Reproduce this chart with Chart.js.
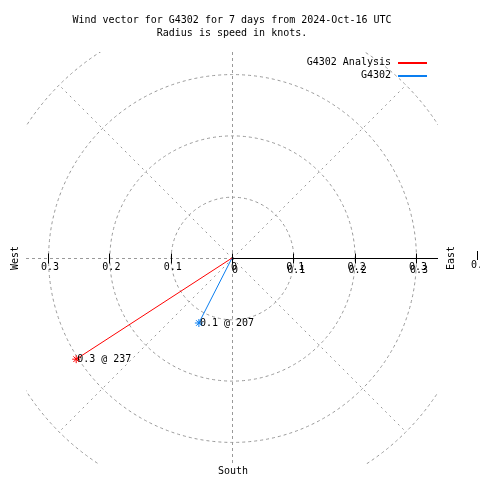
<!DOCTYPE html>
<html>
<head>
<meta charset="utf-8">
<script src="https://cdn.jsdelivr.net/npm/chart.js@4/dist/chart.umd.min.js"></script>
<style>
  html, body { margin: 0; padding: 0; background: #fff; }
  canvas { display: block; }
</style>
</head>
<body>
<canvas id="myChart" width="480" height="480"></canvas>
<script>
'use strict';

// wind vectors: speed in knots, direction in degrees
var seriesNames = ['G4302 Analysis', 'G4302'];
var seriesSpeed = [0.303, 0.119];
var seriesDir = [237, 207];
var seriesColors = ['#ff0000', '#0a7ef0'];

// rings and axis ticks
var ringValues = [0.1, 0.2, 0.3, 0.4];
var tickValues = [-0.3, -0.2, -0.1, 0, 0.1, 0.2, 0.3];
var tickLabels = ['0.3', '0.2', '0.1', '0', '0.1', '0.2', '0.3'];

var titleLines = ['Wind vector for G4302 for 7 days from 2024-Oct-16 UTC', 'Radius is speed in knots.'];
var FONT = '10px "DejaVu Sans Mono", monospace';
var GRID = '#999999';

function speedLabel(i) {
  return seriesSpeed[i].toFixed(1) + ' @ ' + seriesDir[i];
}

var datasets = [];
for (let a = 0; a < seriesNames.length; a++) {
  var rad = seriesDir[a] * Math.PI / 180;
  datasets.push({
    label: seriesNames[a],
    data: [{x: 0, y: 0}, {x: seriesSpeed[a] * Math.sin(rad), y: seriesSpeed[a] * Math.cos(rad)}],
    showLine: true,
    borderColor: seriesColors[a],
    backgroundColor: seriesColors[a],
    borderWidth: 1,
    pointStyle: 'star',
    pointRadius: [0, 4],
    pointBorderWidth: 1
  });
}

var polarGrid = {
  id: 'polarGrid',
  beforeDatasetsDraw: function (chart) {
    var c = chart.ctx, area = chart.chartArea;
    var xs = chart.scales.x, ys = chart.scales.y;
    var cx = Math.round(xs.getPixelForValue(0)) + 0.5;
    var cy = Math.round(ys.getPixelForValue(0)) + 0.5;
    var unit = xs.getPixelForValue(1) - xs.getPixelForValue(0);
    c.save();
    c.beginPath();
    c.rect(area.left, area.top, area.right - area.left, area.bottom - area.top);
    c.clip();
    c.strokeStyle = GRID;
    c.lineWidth = 1;
    c.setLineDash([3, 3]);
    // rings
    for (let r = 0; r < ringValues.length; r++) {
      c.beginPath();
      c.arc(cx, cy, ringValues[r] * unit, 0, Math.PI * 2);
      c.stroke();
    }
    // diagonals out to the last ring
    var outer = ringValues[ringValues.length - 1] * unit;
    c.setLineDash([2, 4]);
    for (let k = 0; k < 4; k++) {
      var ang = (45 + 90 * k) * Math.PI / 180;
      c.beginPath();
      c.moveTo(cx, cy);
      c.lineTo(cx + outer * Math.cos(ang), cy + outer * Math.sin(ang));
      c.stroke();
    }
    // vertical and west half of horizontal
    c.setLineDash([3, 3]);
    c.beginPath();
    c.moveTo(cx, area.top);
    c.lineTo(cx, area.bottom);
    c.moveTo(area.left, cy);
    c.lineTo(cx, cy);
    c.stroke();
    c.restore();

    // east half axis, solid
    c.save();
    c.strokeStyle = '#000';
    c.lineWidth = 1;
    c.beginPath();
    c.moveTo(cx, cy);
    c.lineTo(area.right, cy);
    for (let t = 0; t < tickValues.length; t++) {
      var tx = Math.round(xs.getPixelForValue(tickValues[t])) + 0.5;
      c.moveTo(tx, cy - 5);
      c.lineTo(tx, cy + 5);
    }
    c.stroke();
    c.restore();
  },
  afterDraw: function (chart) {
    var c = chart.ctx, area = chart.chartArea;
    var xs = chart.scales.x, ys = chart.scales.y;
    var cx = xs.getPixelForValue(0);
    var cy = ys.getPixelForValue(0);
    c.save();
    c.font = FONT;
    c.fillStyle = '#000';
    c.textBaseline = 'middle';

    // title
    c.textAlign = 'center';
    c.fillText(titleLines[0], 232, 20);
    c.fillText(titleLines[1], 232, 33);

    // tick labels (east side is printed twice, as in the source plot)
    for (let t = 0; t < tickValues.length; t++) {
      var tx = xs.getPixelForValue(tickValues[t]);
      c.fillText(tickLabels[t], tx + 2, cy + 9);
      if (tickValues[t] >= 0) c.fillText(tickLabels[t], tx + 3, cy + 12);
    }

    // compass words
    c.fillText('South', cx + 1, area.bottom + 7);
    c.save();
    c.translate(15, cy);
    c.rotate(-Math.PI / 2);
    c.fillText('West', 0, 0);
    c.restore();
    c.save();
    c.translate(451, cy);
    c.rotate(-Math.PI / 2);
    c.fillText('East', 0, 0);
    c.restore();

    // cut-off bit at the right edge
    c.textAlign = 'left';
    c.fillText('0.', 471, cy + 7);
    c.fillRect(477, cy - 7, 1, 9);

    // vector end labels
    for (let a = 0; a < chart.data.datasets.length; a++) {
      var p = chart.data.datasets[a].data[1];
      c.fillText(speedLabel(a), xs.getPixelForValue(p.x) + 1, ys.getPixelForValue(p.y));
    }

    // key
    c.textAlign = 'right';
    for (let a = 0; a < seriesNames.length; a++) {
      var ly = 62 + a * 13;
      c.fillText(seriesNames[a], 391, ly);
      c.fillStyle = seriesColors[a];
      c.fillRect(398, ly, 29, 2);
      c.fillStyle = '#000';
    }
    c.restore();
  }
};

var ctx = document.getElementById('myChart').getContext('2d');
var myChart = new Chart(ctx, {
  type: 'scatter',
  data: { datasets: datasets },
  options: {
    responsive: false,
    animation: false,
    layout: { padding: { left: 26, right: 42, top: 52, bottom: 16 } },
    scales: {
      x: { type: 'linear', min: -0.336, max: 0.336, display: false },
      y: { type: 'linear', min: -0.336, max: 0.336, display: false }
    },
    plugins: {
      legend: { display: false },
      tooltip: { enabled: false }
    }
  },
  plugins: [polarGrid]
});
</script>
</body>
</html>
